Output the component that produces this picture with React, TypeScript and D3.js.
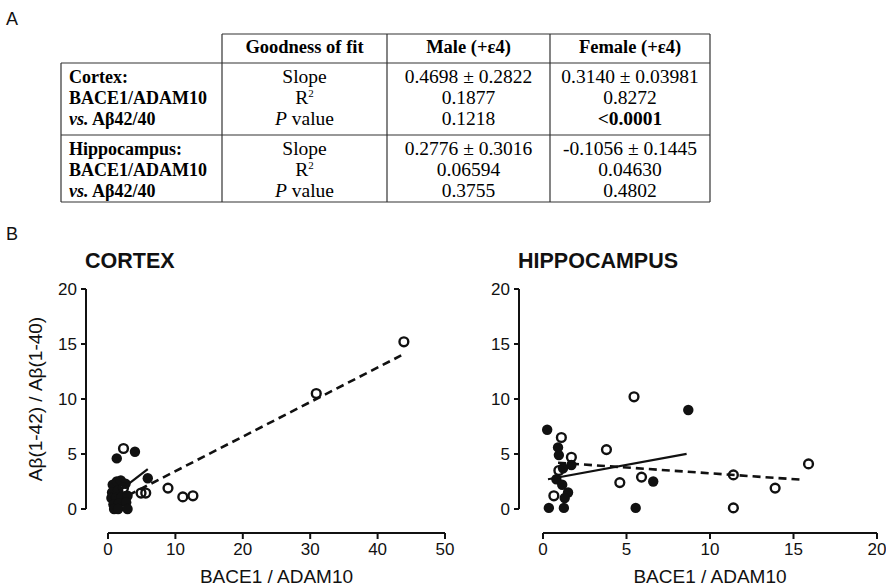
import React from "react";
import * as d3 from "d3";

// ---------- Table data ----------
const tableHeaders = ["Goodness of fit", "Male (+ε4)", "Female (+ε4)"];
const cortexLabel = ["Cortex:", "BACE1/ADAM10", "vs. Aβ42/40"];
const hippoLabel = ["Hippocampus:", "BACE1/ADAM10", "vs. Aβ42/40"];
const metricNames = ["Slope", "R2", "P value"];
const cortexMaleFit = ["0.4698 ± 0.2822", "0.1877", "0.1218"];
const cortexFemaleFit = ["0.3140 ± 0.03981", "0.8272", "<0.0001"];
const hippoMaleFit = ["0.2776 ± 0.3016", "0.06594", "0.3755"];
const hippoFemaleFit = ["-0.1056 ± 0.1445", "0.04630", "0.4802"];

// ---------- Scatter data ----------
const cortexMaleX = [0.7, 1.3, 1.9, 2.6, 0.6, 1.5, 0.5, 1.2, 2.0, 2.9, 0.8, 1.6, 2.7, 0.9, 1.5, 2.9, 1.3, 4.0, 5.9];
const cortexMaleY = [2.2, 2.5, 2.6, 2.3, 1.5, 1.7, 1.0, 1.0, 1.1, 1.2, 0.4, 0.5, 0.6, 0.0, 0.0, 0.0, 4.6, 5.2, 2.8];
const cortexFemaleX = [2.3, 2.3, 4.9, 5.6, 8.9, 11.1, 12.6, 30.9, 43.9];
const cortexFemaleY = [5.5, 1.9, 1.45, 1.45, 1.9, 1.1, 1.2, 10.5, 15.2];
const cortexMaleLine = { slope: 0.4698, intercept: 0.85, x0: 0.5, x1: 5.9 };
const cortexFemaleLine = { slope: 0.314, intercept: 0.3, x0: 3.0, x1: 43.5 };

const hippoMaleX = [0.25, 0.9, 0.95, 1.2, 1.7, 0.8, 1.15, 1.5, 1.3, 0.35, 1.25, 5.55, 6.6, 8.7];
const hippoMaleY = [7.2, 5.6, 4.9, 3.7, 4.0, 2.7, 2.2, 1.5, 1.0, 0.1, 0.1, 0.1, 2.5, 9.0];
const hippoFemaleX = [1.1, 1.7, 0.95, 0.65, 3.8, 4.6, 5.45, 5.9, 11.4, 11.4, 13.9, 15.9];
const hippoFemaleY = [6.5, 4.7, 3.5, 1.2, 5.4, 2.4, 10.2, 2.9, 3.1, 0.1, 1.9, 4.1];
const hippoMaleLine = { slope: 0.2776, intercept: 2.62, x0: 0.3, x1: 8.6 };
const hippoFemaleLine = { slope: -0.1056, intercept: 4.3, x0: 0.9, x1: 15.6 };

const yTicks = [0, 5, 10, 15, 20];
const cortexXTicks = [0, 10, 20, 30, 40, 50];
const hippoXTicks = [0, 5, 10, 15, 20];

const SANS = "'Liberation Sans', Arial, Helvetica, sans-serif";
const SERIF = "'Liberation Serif', 'Times New Roman', serif";
const INK = "#111";

function Metric({ name, x, y }: { name: string; x: number; y: number }) {
  if (name === "R2") {
    return (
      <text x={x} y={y} textAnchor="middle" fontFamily={SERIF} fontSize={19.5}>
        R<tspan fontSize={11} dy={-7}>2</tspan>
      </text>
    );
  }
  if (name === "P value") {
    return (
      <text x={x} y={y} textAnchor="middle" fontFamily={SERIF} fontSize={19.5}>
        <tspan fontStyle="italic">P</tspan> value
      </text>
    );
  }
  return (
    <text x={x} y={y} textAnchor="middle" fontFamily={SERIF} fontSize={19.5}>
      {name}
    </text>
  );
}

function RegionLabel({ lines, x, ys }: { lines: string[]; x: number; ys: number[] }) {
  return (
    <g fontFamily={SERIF} fontWeight="bold" fontSize={18}>
      <text x={x} y={ys[0]}>{lines[0]}</text>
      <text x={x} y={ys[1]}>{lines[1]}</text>
      <text x={x} y={ys[2]}>
        <tspan fontStyle="italic">{lines[2].slice(0, 3)}</tspan>
        {lines[2].slice(3)}
      </text>
    </g>
  );
}

function Table() {
  const xs = [61, 222, 387, 550, 710];
  const ys = [34, 63, 135, 202];
  const centers = [(xs[1] + xs[2]) / 2, (xs[2] + xs[3]) / 2, (xs[3] + xs[4]) / 2];
  const row1 = [83, 104, 125];
  const row2 = [155, 176, 197];
  const stroke = "#333";
  const sw = 1.2;
  const cols = [
    [cortexMaleFit, hippoMaleFit],
    [cortexFemaleFit, hippoFemaleFit],
  ];
  return (
    <g>
      <line x1={xs[1]} x2={xs[4]} y1={ys[0]} y2={ys[0]} stroke={stroke} strokeWidth={sw} />
      <line x1={xs[0]} x2={xs[4]} y1={ys[1]} y2={ys[1]} stroke={stroke} strokeWidth={sw} />
      <line x1={xs[0]} x2={xs[4]} y1={ys[2]} y2={ys[2]} stroke={stroke} strokeWidth={sw} />
      <line x1={xs[0]} x2={xs[4]} y1={ys[3]} y2={ys[3]} stroke={stroke} strokeWidth={sw} />
      <line x1={xs[0]} x2={xs[0]} y1={ys[1]} y2={ys[3]} stroke={stroke} strokeWidth={sw} />
      {[1, 2, 3, 4].map((i) => (
        <line key={i} x1={xs[i]} x2={xs[i]} y1={ys[0]} y2={ys[3]} stroke={stroke} strokeWidth={sw} />
      ))}
      {tableHeaders.map((h, i) => (
        <text key={h} x={centers[i]} y={53} textAnchor="middle" fontFamily={SERIF} fontWeight="bold" fontSize={18.5}>
          {h}
        </text>
      ))}
      <RegionLabel lines={cortexLabel} x={69} ys={row1} />
      <RegionLabel lines={hippoLabel} x={69} ys={row2} />
      {metricNames.map((m, i) => (
        <Metric key={"a" + m} name={m} x={centers[0]} y={row1[i]} />
      ))}
      {metricNames.map((m, i) => (
        <Metric key={"b" + m} name={m} x={centers[0]} y={row2[i]} />
      ))}
      {cols.map((pair, ci) =>
        pair.map((vals, ri) =>
          vals.map((v, k) => (
            <text
              key={`${ci}-${ri}-${k}`}
              x={centers[ci + 1]}
              y={(ri === 0 ? row1 : row2)[k]}
              textAnchor="middle"
              fontFamily={SERIF}
              fontSize={19.5}
              fontWeight={v.startsWith("<") ? "bold" : "normal"}
            >
              {v}
            </text>
          ))
        )
      )}
    </g>
  );
}

type Line = { slope: number; intercept: number; x0: number; x1: number };

function Scatter(props: {
  title: string;
  xDomain: [number, number];
  xRange: [number, number];
  xTicks: number[];
  yAxisX: number;
  maleX: number[];
  maleY: number[];
  femaleX: number[];
  femaleY: number[];
  maleLine: Line;
  femaleLine: Line;
  yTitle?: string;
}) {
  const x = d3.scaleLinear().domain(props.xDomain).range(props.xRange);
  const y = d3.scaleLinear().domain([0, 20]).range([509, 289]);
  const xAxisY = 533;
  const ax = props.yAxisX;
  const seg = (l: Line) => {
    const g = d3
      .line<number>()
      .x((d) => x(d))
      .y((d) => y(l.slope * d + l.intercept));
    return g([l.x0, l.x1]) || "";
  };
  const midX = (props.xRange[0] + props.xRange[1]) / 2;
  return (
    <g>
      <text x={ax - 1} y={268} fontFamily={SANS} fontWeight="bold" fontSize={21.5} fill={INK}>
        {props.title}
      </text>
      <line x1={ax} x2={ax} y1={y(0)} y2={y(20)} stroke={INK} strokeWidth={2} />
      {yTicks.map((t) => (
        <g key={"y" + t}>
          <line x1={ax - 5} x2={ax} y1={y(t)} y2={y(t)} stroke={INK} strokeWidth={2} />
          <text x={ax - 9} y={y(t)} dy="0.36em" textAnchor="end" fontFamily={SANS} fontSize={17} fill={INK}>
            {t}
          </text>
        </g>
      ))}
      <line x1={x(props.xDomain[0])} x2={x(props.xDomain[1])} y1={xAxisY} y2={xAxisY} stroke={INK} strokeWidth={2} />
      {props.xTicks.map((t) => (
        <g key={"x" + t}>
          <line x1={x(t)} x2={x(t)} y1={xAxisY} y2={xAxisY + 6} stroke={INK} strokeWidth={2} />
          <text x={x(t)} y={555} textAnchor="middle" fontFamily={SANS} fontSize={17} fill={INK}>
            {t}
          </text>
        </g>
      ))}
      <text x={midX} y={583} textAnchor="middle" fontFamily={SANS} fontSize={19} fill={INK}>
        BACE1 / ADAM10
      </text>
      {props.yTitle && (
        <text
          transform={`translate(42, ${(y(0) + y(20)) / 2}) rotate(-90)`}
          textAnchor="middle"
          fontFamily={SANS}
          fontSize={19}
          fill={INK}
        >
          {props.yTitle}
        </text>
      )}
      <path d={seg(props.femaleLine)} stroke={INK} strokeWidth={2.6} fill="none" strokeDasharray="8 5" />
      {props.maleX.map((v, i) => (
        <circle key={"m" + i} cx={x(v)} cy={y(props.maleY[i])} r={5.2} fill={INK} />
      ))}
      {props.femaleX.map((v, i) => (
        <circle key={"f" + i} cx={x(v)} cy={y(props.femaleY[i])} r={4.4} fill="none" stroke={INK} strokeWidth={2.4} />
      ))}
      <path d={seg(props.maleLine)} stroke={INK} strokeWidth={2.2} fill="none" />
    </g>
  );
}

export default function App() {
  return (
    <div style={{ position: "absolute", left: 0, top: 0, width: 886, height: 588, background: "#fff" }}>
      <svg width={886} height={588} viewBox="0 0 886 588" style={{ display: "block" }}>
        <rect width={886} height={588} fill="#fff" />
        <text x={6} y={25} fontFamily={SANS} fontSize={18} fill={INK}>A</text>
        <Table />
        <text x={6} y={240} fontFamily={SANS} fontSize={18} fill={INK}>B</text>
        <Scatter
          title="CORTEX"
          xDomain={[0, 50]}
          xRange={[108, 445]}
          xTicks={cortexXTicks}
          yAxisX={86}
          maleX={cortexMaleX}
          maleY={cortexMaleY}
          femaleX={cortexFemaleX}
          femaleY={cortexFemaleY}
          maleLine={cortexMaleLine}
          femaleLine={cortexFemaleLine}
          yTitle="Aβ(1-42) / Aβ(1-40)"
        />
        <Scatter
          title="HIPPOCAMPUS"
          xDomain={[0, 20]}
          xRange={[543, 877]}
          xTicks={hippoXTicks}
          yAxisX={519}
          maleX={hippoMaleX}
          maleY={hippoMaleY}
          femaleX={hippoFemaleX}
          femaleY={hippoFemaleY}
          maleLine={hippoMaleLine}
          femaleLine={hippoFemaleLine}
        />
      </svg>
    </div>
  );
}
